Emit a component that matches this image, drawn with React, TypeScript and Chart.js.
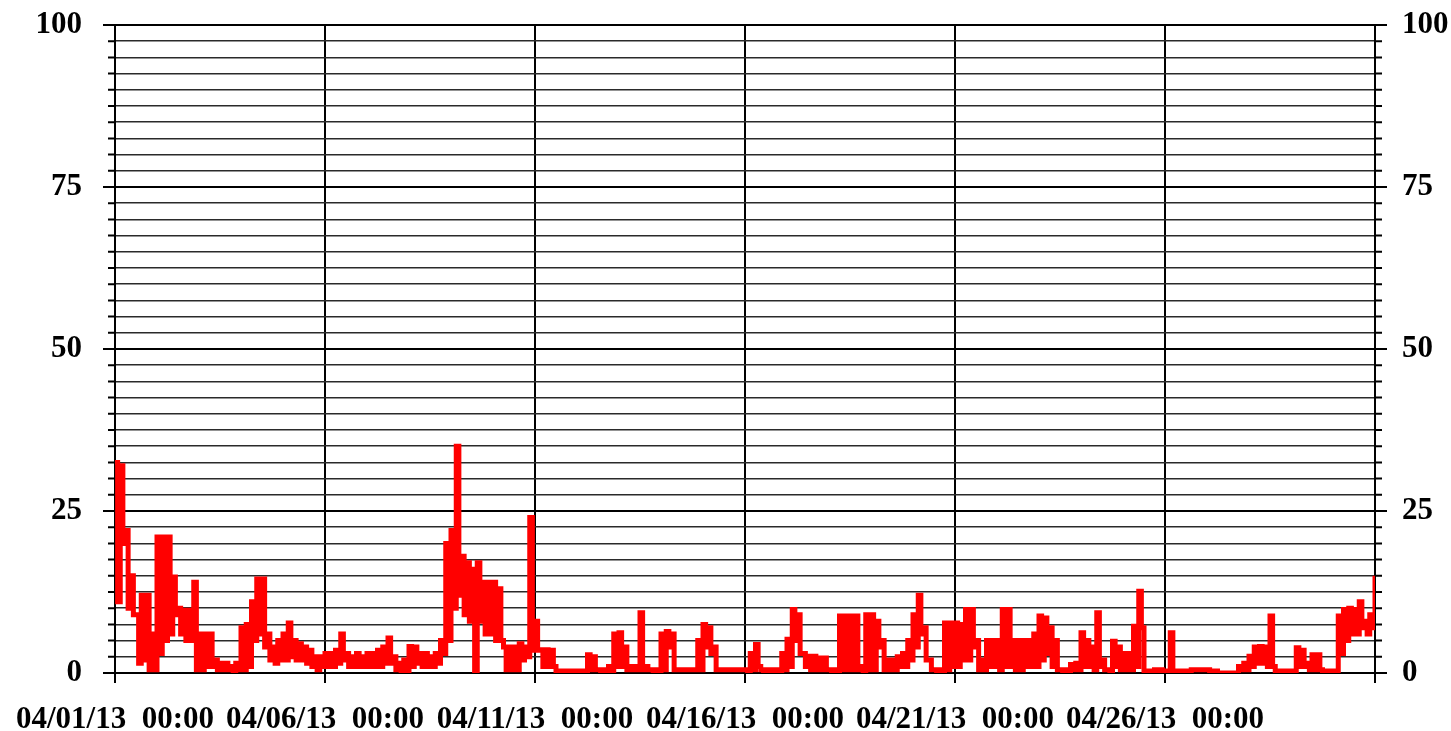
import React, { useEffect, useRef } from 'react';
import { Chart, registerables } from 'chart.js';

Chart.register(...registerables);

// Readings every 3 hours from 04/01/13 00:00: the high and the low reached in each 3-hour slot.
const SLOT_HOURS = 3;
const slotHigh = [
  32.5, 32, 22, 15, 9, 12, 12, 6, // 04/01
  21, 21, 21, 14.8, 10, 9.7, 9.7, 14, // 04/02
  6, 6, 6, 2, 1.5, 1.5, 1, 1.5, // 04/03
  7, 7.5, 11, 14.5, 14.5, 6, 4, 5, // 04/04
  6, 7.7, 5, 4.5, 4, 3.5, 2.5, 2.5, // 04/05
  3, 3, 3.5, 6, 3, 2.5, 3, 2.5, // 04/06
  3, 3, 3.5, 4, 5.4, 2.5, 1.5, 2, // 04/07
  4.1, 4, 3, 3, 2.5, 3, 5, 20, // 04/08
  22, 35, 18, 17, 16, 17, 14, 14, // 04/09
  14, 13, 4, 4, 4, 4.5, 4, 24, // 04/10
  8, 3.6, 3.6, 3.5, 0.3, 0.3, 0.3, 0.3, // 04/11
  0.3, 0.3, 2.8, 2.5, 0.5, 0.5, 1, 6, // 04/12
  6.2, 4, 1, 1, 9.3, 1, 0.5, 0.5, // 04/13
  6, 6.4, 6, 0.5, 0.5, 0.5, 0.5, 5, // 04/14
  7.5, 7, 4, 0.5, 0.5, 0.5, 0.5, 0.5, // 04/15
  0.5, 3, 4.4, 0.5, 0.5, 0.5, 0.5, 3, // 04/16
  5.2, 9.8, 9, 3, 2.6, 2.6, 2.3, 2.3, // 04/17
  0.5, 0.5, 8.8, 8.8, 8.8, 8.8, 1, 9, // 04/18
  9, 8, 5, 2, 2, 2.5, 3, 5, // 04/19
  9, 12, 7, 2, 0.5, 0.5, 7.7, 7.7, // 04/20
  7.7, 7.5, 9.8, 9.8, 5, 2, 5, 5, // 04/21
  5, 9.8, 9.8, 5, 5, 5, 5, 6, // 04/22
  8.8, 8.5, 7, 5, 0.5, 0.5, 1.3, 1.5, // 04/23
  6.2, 5, 4, 9.3, 2, 0.5, 4.9, 4, // 04/24
  3, 3, 7.2, 12.6, 0.3, 0.3, 0.5, 0.5, // 04/25
  0.3, 6.2, 0.3, 0.3, 0.3, 0.5, 0.5, 0.5, // 04/26
  0.5, 0.3, 0, 0, 0, 0, 1, 1.5, // 04/27
  2.6, 4, 4.1, 4, 8.8, 0.3, 0.3, 0.3, // 04/28
  0.3, 3.9, 3.5, 1.5, 2.8, 2.8, 0.3, 0.3, // 04/29
  0.3, 8.8, 9.8, 10, 9.8, 11, 8, 9, // 04/30
];
const slotLow = [
  11, 20, 10, 9, 1.5, 2, 0.5, 0.5, // 04/01
  3, 5, 6, 9, 6, 5, 5, 0.5, // 04/02
  0.5, 1, 1, 0.5, 0.5, 0.5, 0.3, 0.5, // 04/03
  0.5, 1, 5, 6, 4, 2, 1.5, 2, // 04/04
  2, 2.5, 2, 2, 1.5, 1, 0.5, 1, // 04/05
  1, 1, 1.5, 2, 1, 1, 1, 1, // 04/06
  1, 1, 1, 1.5, 1.5, 0.5, 0.3, 0.3, // 04/07
  1, 1.5, 1, 1, 1, 1.5, 3, 5, // 04/08
  10, 12, 9, 8, 0, 8, 6, 6, // 04/09
  5, 5, 0.5, 0.5, 0.5, 2, 2.5, 3.5, // 04/10
  3.5, 1, 1, 1, 0.3, 0.3, 0.3, 0.3, // 04/11
  0.3, 0.3, 0.5, 0.5, 0.3, 0.3, 0.3, 1, // 04/12
  1, 0.5, 0.5, 0.5, 0.5, 0.5, 0.3, 0.3, // 04/13
  0.5, 4, 0.5, 0.5, 0.5, 0.5, 0.5, 0.5, // 04/14
  4, 3, 0.5, 0.5, 0.5, 0.5, 0.5, 0.5, // 04/15
  0.3, 0.5, 1, 0.3, 0.3, 0.3, 0.3, 0.5, // 04/16
  1, 5, 3, 1, 0.5, 0.5, 0.5, 0.5, // 04/17
  0.3, 0.3, 0.5, 0.5, 0.5, 0.5, 0.3, 0.5, // 04/18
  0.5, 4, 0.5, 0.5, 0.5, 1, 1, 2, // 04/19
  4, 6, 2, 0.5, 0.3, 0.3, 0.5, 1, // 04/20
  1, 2, 2, 4, 0.5, 0.5, 1, 1, // 04/21
  0.5, 1, 1, 0.5, 0.5, 1, 1, 1, // 04/22
  2, 3, 1, 0.5, 0.3, 0.3, 0.5, 0.5, // 04/23
  1, 1, 0.5, 1, 0.5, 0.3, 1, 0.5, // 04/24
  0.5, 0.5, 1, 7, 0.3, 0.3, 0.3, 0.3, // 04/25
  0.3, 0.3, 0.3, 0.3, 0.3, 0.5, 0.5, 0.5, // 04/26
  0.3, 0.3, 0, 0, 0, 0, 0.5, 0.5, // 04/27
  1, 1.5, 1.5, 1, 1, 0.3, 0.3, 0.3, // 04/28
  0.3, 1, 1, 0.5, 0.5, 0.5, 0.3, 0.3, // 04/29
  0.3, 3, 5, 6, 6, 7, 6, 7, // 04/30
];
const FINAL_VALUE = 15; // 05/01/13 00:00

const xTickDays = [0, 5, 10, 15, 20, 25, 30];
const xTickLabels = [
  '04/01/13  00:00',
  '04/06/13  00:00',
  '04/11/13  00:00',
  '04/16/13  00:00',
  '04/21/13  00:00',
  '04/26/13  00:00',
  '',
];
const yMajorValues = [0, 25, 50, 75, 100];
const yMajorLabels = ['0', '25', '50', '75', '100'];
const Y_MINOR_STEP = 2.5;

const FONT = { family: '"Liberation Serif", "Times New Roman", serif', size: 31, weight: 'bold' as const };

const isMajor = (v: number) => yMajorValues.includes(v);

const tickMarks = {
  id: 'tickMarks',
  beforeDraw(chart: any) {
    const c = chart.ctx;
    c.save();
    c.fillStyle = '#ffffff';
    c.fillRect(0, 0, chart.width, chart.height);
    c.restore();
  },
  afterDatasetsDraw(chart: any) {
    const c = chart.ctx;
    const area = chart.chartArea;
    const ys = chart.scales.y;
    const xs = chart.scales.x;
    c.save();
    c.strokeStyle = '#000';
    c.lineWidth = 2;
    ys.ticks.forEach((t: any) => {
      const py = ys.getPixelForValue(t.value);
      const len = isMajor(t.value) ? 12 : 7;
      c.beginPath();
      c.moveTo(area.left - len, py);
      c.lineTo(area.left, py);
      c.moveTo(area.right, py);
      c.lineTo(area.right + len, py);
      c.stroke();
    });
    xs.ticks.forEach((t: any) => {
      const px = xs.getPixelForValue(t.value);
      c.beginPath();
      c.moveTo(px, area.bottom);
      c.lineTo(px, area.bottom + 10);
      c.stroke();
    });
    c.restore();
  },
};

export default function App() {
  const ref = useRef<HTMLCanvasElement | null>(null);

  useEffect(() => {
    if (!ref.current) return;
    const points: { x: number; y: number }[] = [];
    slotHigh.forEach((h, i) => {
      const start = (i * SLOT_HOURS) / 24;
      points.push({ x: start, y: h });
      points.push({ x: start + SLOT_HOURS / 48, y: slotLow[i] });
    });
    points.push({ x: (slotHigh.length * SLOT_HOURS) / 24, y: FINAL_VALUE });

    const yTicks = () => {
      const arr: { value: number }[] = [];
      for (let v = 0; v <= 100 + 1e-9; v += Y_MINOR_STEP) arr.push({ value: v });
      return arr;
    };
    const yLabel = (v: any) => {
      const idx = yMajorValues.indexOf(Number(v));
      return idx >= 0 ? yMajorLabels[idx] : '';
    };
    const gridColor = (ctx: any) => (ctx.tick && isMajor(ctx.tick.value) ? '#000000' : '#2a2a2a');
    const gridWidth = (ctx: any) => (ctx.tick && isMajor(ctx.tick.value) ? 2 : 1.6);
    const noPad = (s: any) => {
      s.paddingTop = 0;
      s.paddingBottom = 0;
      s.paddingLeft = 0;
      s.paddingRight = 0;
    };

    const chart = new Chart(ref.current, {
      type: 'line',
      data: {
        datasets: [
          {
            data: points,
            borderColor: '#ff0000',
            backgroundColor: '#ff0000',
            borderWidth: 5,
            pointRadius: 0,
            stepped: true,
            fill: false,
          },
        ],
      },
      plugins: [tickMarks],
      options: {
        animation: false,
        responsive: false,
        devicePixelRatio: 1,
        parsing: false,
        normalized: true,
        layout: { padding: { top: 25, left: 0, right: 0, bottom: 0 } },
        plugins: { legend: { display: false }, tooltip: { enabled: false } },
        scales: {
          x: {
            type: 'linear',
            min: 0,
            max: 30,
            afterBuildTicks: (s: any) => {
              s.ticks = xTickDays.map((v) => ({ value: v }));
            },
            afterFit: (s: any) => {
              s.height = 58;
              noPad(s);
            },
            grid: { color: '#000', lineWidth: 2, drawTicks: false },
            border: { display: true, color: '#000', width: 2 },
            ticks: {
              autoSkip: false,
              maxRotation: 0,
              padding: 28,
              color: '#000',
              font: FONT,
              callback: (v: any) => {
                const idx = xTickDays.indexOf(Number(v));
                return idx >= 0 ? xTickLabels[idx] : '';
              },
            },
          },
          y: {
            type: 'linear',
            position: 'left',
            min: 0,
            max: 100,
            afterBuildTicks: (s: any) => {
              s.ticks = yTicks();
            },
            afterFit: (s: any) => {
              s.width = 115;
              noPad(s);
            },
            grid: { color: gridColor, lineWidth: gridWidth, drawTicks: false },
            border: { display: true, color: '#000', width: 2 },
            ticks: { autoSkip: false, padding: 33, color: '#000', font: FONT, callback: yLabel },
          },
          y2: {
            type: 'linear',
            position: 'right',
            min: 0,
            max: 100,
            afterBuildTicks: (s: any) => {
              s.ticks = yTicks();
            },
            afterFit: (s: any) => {
              s.width = 76;
              noPad(s);
            },
            grid: { drawOnChartArea: false, drawTicks: false },
            border: { display: true, color: '#000', width: 2 },
            ticks: { autoSkip: false, padding: 27, color: '#000', font: FONT, callback: yLabel },
          },
        },
      },
    } as any);
    return () => chart.destroy();
  }, []);

  return (
    <div style={{ position: 'absolute', left: 0, top: 0, width: 1451, height: 731, background: '#fff' }}>
      <canvas ref={ref} width={1451} height={731} style={{ display: 'block' }} />
    </div>
  );
}
